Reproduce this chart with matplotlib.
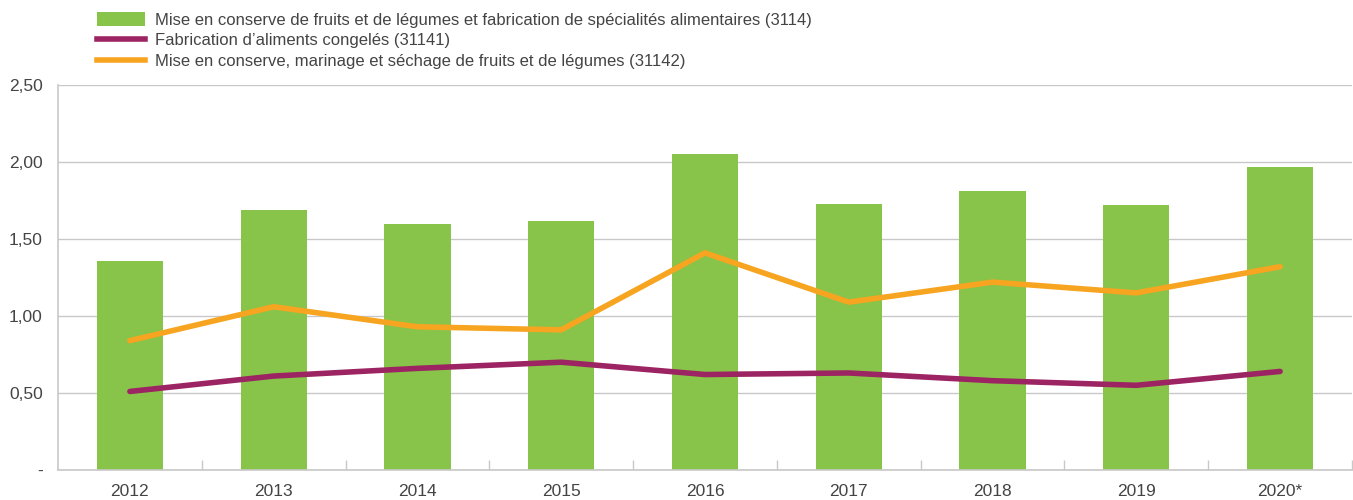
import numpy as np
import matplotlib
matplotlib.use('Agg')
import matplotlib.pyplot as plt
from matplotlib.patches import Patch
from matplotlib.lines import Line2D

plt.rcParams['font.family'] = ['Liberation Sans Narrow', 'Liberation Sans', 'DejaVu Sans']

years = ['2012', '2013', '2014', '2015', '2016', '2017', '2018', '2019', '2020*']
conserve_total = [1.36, 1.69, 1.60, 1.62, 2.05, 1.73, 1.81, 1.72, 1.97]      # 3114
congeles = [0.51, 0.61, 0.66, 0.70, 0.62, 0.63, 0.58, 0.55, 0.64]            # 31141
conserve_marinage = [0.84, 1.06, 0.93, 0.91, 1.41, 1.09, 1.22, 1.15, 1.32]   # 31142

lab_bar = 'Mise en conserve de fruits et de légumes et fabrication de spécialités alimentaires (3114)'
lab_violet = 'Fabrication d\u2019aliments congelés (31141)'
lab_orange = 'Mise en conserve, marinage et séchage de fruits et de légumes (31142)'

green = '#88c34a'
purple = '#9c2462'
orange = '#f7a521'
grey = '#c8c8c8'
txt = '#444444'

fig = plt.figure(figsize=(13.53, 5.0), dpi=100)
ax = fig.add_axes([58/1353, 30/500, 1 - 58/1353 - 1/1353, 385/500])

x = np.arange(len(years))
ax.bar(x, conserve_total, width=0.46, color=green, zorder=2)
ax.plot(x, conserve_marinage, color=orange, lw=4, solid_capstyle='round', zorder=3)
ax.plot(x, congeles, color=purple, lw=4, solid_capstyle='round', zorder=3)

ax.set_xlim(-0.5, len(years) - 0.5)
ax.set_ylim(0, 2.5)
ax.set_yticks([0, 0.5, 1.0, 1.5, 2.0, 2.5])
ax.set_yticklabels(['-', '0,50', '1,00', '1,50', '2,00', '2,50'])
ax.set_xticks(x)
ax.set_xticklabels(years)
ax.set_xticks(np.arange(len(years)) + 0.5, minor=True)
ax.tick_params(axis='x', which='major', length=0, pad=10, labelsize=12.5, colors=txt)
ax.tick_params(axis='x', which='minor', direction='in', length=7, color=grey, width=1)
ax.tick_params(axis='y', length=0, pad=11, labelsize=12.5, colors=txt)

ax.grid(axis='y', color=grey, lw=1, zorder=0)
for s in ['top', 'right']:
    ax.spines[s].set_visible(False)
for s in ['left', 'bottom']:
    ax.spines[s].set_color(grey)
    ax.spines[s].set_linewidth(1.2)

handles = [Patch(facecolor=green, edgecolor='none'),
           Line2D([0], [0], color=purple, lw=4),
           Line2D([0], [0], color=orange, lw=4)]
fig.legend(handles, [lab_bar, lab_violet, lab_orange], loc='upper left',
           bbox_to_anchor=(82/1353, 1.006), frameon=False, fontsize=12,
           handlelength=2.9, handleheight=0.9, handletextpad=0.6,
           labelspacing=0.3, labelcolor=txt)

fig.savefig('out.png', dpi=100)
